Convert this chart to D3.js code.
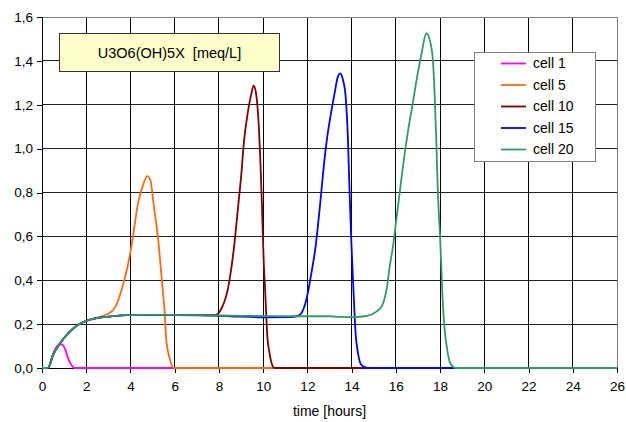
<!DOCTYPE html>
<html>
<head>
<meta charset="utf-8">
<script src="https://cdn.jsdelivr.net/npm/d3@7"></script>
<style>
  html, body { margin: 0; padding: 0; background: #fff; }
  svg { display: block; font-family: "Liberation Sans", Arial, sans-serif; }
</style>
</head>
<body>
<svg id="chart" width="626" height="422"></svg>
<script>
// Concentration of U3O6(OH)5X over time at selected cells, [time (h), meq/L]
const cell1 = [[0,0],[0.27,0],[0.5,0.065],[0.72,0.104],[0.88,0.108],[1.03,0.09],[1.18,0.044],[1.33,0.014],[1.48,0],[26,0]];
const cell5 = [[0,0],[0.27,0],[0.5,0.06],[0.8,0.11],[1.2,0.16],[1.6,0.195],[2.0,0.215],[2.6,0.232],[3.21,0.264],[3.45,0.31],[3.66,0.378],[3.96,0.507],[4.11,0.598],[4.34,0.75],[4.57,0.834],[4.76,0.875],[4.9,0.857],[5.06,0.735],[5.24,0.598],[5.42,0.40],[5.55,0.25],[5.62,0.128],[5.77,0.045],[5.95,0],[26,0]];
const cell10 = [[0,0],[0.27,0],[0.5,0.06],[0.8,0.11],[1.2,0.16],[1.6,0.195],[2.0,0.215],[2.6,0.23],[3.2,0.236],[3.8,0.241],[5,0.242],[7,0.242],[7.85,0.242],[8.11,0.27],[8.41,0.363],[8.56,0.454],[8.71,0.576],[8.86,0.728],[9.01,0.88],[9.13,1.03],[9.31,1.168],[9.47,1.252],[9.57,1.287],[9.69,1.244],[9.8,1.108],[9.87,0.956],[9.95,0.728],[10.02,0.5],[10.1,0.333],[10.14,0.24],[10.19,0.143],[10.29,0.067],[10.44,0.006],[10.5,0],[26,0]];
const cell15 = [[0,0],[0.27,0],[0.5,0.06],[0.8,0.11],[1.2,0.16],[1.6,0.195],[2.0,0.215],[2.6,0.23],[3.2,0.236],[3.8,0.241],[5,0.242],[7,0.24],[8.5,0.236],[10,0.231],[11.3,0.232],[11.65,0.242],[11.95,0.31],[12.18,0.432],[12.37,0.553],[12.55,0.72],[12.74,0.918],[12.88,1.04],[13.04,1.145],[13.23,1.252],[13.38,1.328],[13.49,1.343],[13.61,1.313],[13.73,1.237],[13.83,1.054],[13.91,0.796],[13.99,0.568],[14.09,0.34],[14.18,0.158],[14.29,0.067],[14.44,0.014],[14.7,0],[26,0]];
const cell20 = [[0,0],[0.27,0],[0.5,0.06],[0.8,0.11],[1.2,0.16],[1.6,0.195],[2.0,0.215],[2.6,0.23],[3.2,0.236],[3.8,0.241],[5,0.242],[7,0.241],[9,0.238],[11,0.236],[13,0.236],[13.5,0.233],[14.1,0.232],[14.67,0.237],[15.12,0.257],[15.39,0.287],[15.6,0.37],[15.72,0.461],[15.87,0.553],[16.02,0.675],[16.17,0.796],[16.32,0.918],[16.55,1.08],[16.77,1.21],[16.95,1.32],[17.15,1.427],[17.38,1.526],[17.57,1.48],[17.68,1.396],[17.75,1.259],[17.83,1.031],[17.9,0.804],[18.01,0.576],[18.1,0.348],[18.2,0.18],[18.28,0.113],[18.43,0.029],[18.58,0.006],[18.7,0],[26,0]];

const seriesNames = ["cell 1", "cell 5", "cell 10", "cell 15", "cell 20"];
const seriesData = [cell1, cell5, cell10, cell15, cell20];
const seriesColors = ["#ff00ff", "#ff6a13", "#800000", "#0000ff", "#339966"];

const xTicks = [0, 2, 4, 6, 8, 10, 12, 14, 16, 18, 20, 22, 24, 26];
const yTicks = [0, 0.2, 0.4, 0.6, 0.8, 1.0, 1.2, 1.4, 1.6];
const chartTitle = "U3O6(OH)5X  [meq/L]";
const xTitle = "time [hours]";

const svg = d3.select("#chart");
const plot = { left: 42, right: 617, top: 17, bottom: 368 };

const x = d3.scaleLinear().domain([0, 26]).range([plot.left, plot.right]);
const y = d3.scaleLinear().domain([0, 1.6]).range([plot.bottom, plot.top]);
const fmt = v => d3.format(".1f")(v).replace(".", ",");

// grid
const grid = svg.append("g").attr("shape-rendering", "crispEdges");
grid.selectAll("line.v").data(xTicks.filter(t => t > 0 && t < 26)).join("line")
  .attr("x1", d => x(d)).attr("x2", d => x(d))
  .attr("y1", plot.top).attr("y2", plot.bottom)
  .attr("stroke", "#000");
grid.selectAll("line.h").data(yTicks.filter(t => t > 0 && t < 1.6)).join("line")
  .attr("x1", plot.left).attr("x2", plot.right)
  .attr("y1", d => y(d)).attr("y2", d => y(d))
  .attr("stroke", "#222");
// top and right frame
grid.append("line").attr("x1", plot.left).attr("x2", plot.right)
  .attr("y1", plot.top).attr("y2", plot.top).attr("stroke", "#808080");
grid.append("line").attr("x1", plot.right).attr("x2", plot.right)
  .attr("y1", plot.top).attr("y2", plot.bottom).attr("stroke", "#808080");

// axes
const xAxis = d3.axisBottom(x).tickValues(xTicks).tickSize(5).tickPadding(8).tickFormat(d3.format("d"));
const yAxis = d3.axisLeft(y).tickValues(yTicks).tickSize(5).tickPadding(4).tickFormat(fmt);

const gx = svg.append("g").attr("transform", `translate(0,${plot.bottom})`).call(xAxis);
const gy = svg.append("g").attr("transform", `translate(${plot.left},0)`).call(yAxis);
[gx, gy].forEach(g => {
  g.select(".domain").attr("stroke", "#000").attr("shape-rendering", "crispEdges");
  g.selectAll(".tick line").attr("stroke", "#000").attr("shape-rendering", "crispEdges");
  g.selectAll(".tick text").attr("fill", "#000").attr("font-size", 13.5)
    .attr("font-family", "Liberation Sans, Arial, sans-serif");
});
gx.select(".domain").attr("d", `M${plot.left},0H${plot.right}`);
gy.select(".domain").attr("d", `M0,${plot.top}V${plot.bottom}`);

svg.append("text").attr("x", x(13)).attr("y", 416).attr("text-anchor", "middle")
  .attr("font-size", 14).attr("fill", "#000").text(xTitle);

// series
const line = d3.line().x(d => x(d[0])).y(d => y(d[1])).curve(d3.curveMonotoneX);
svg.append("g").selectAll("path").data(seriesData).join("path")
  .attr("d", line)
  .attr("fill", "none")
  .attr("stroke", (d, i) => seriesColors[i])
  .attr("stroke-width", 1.8)
  .attr("stroke-linejoin", "round");

// title box
const tb = svg.append("g");
tb.append("rect").attr("x", 59.5).attr("y", 33.5).attr("width", 220).attr("height", 38)
  .attr("fill", "#ffffcc").attr("stroke", "#333").attr("shape-rendering", "crispEdges");
tb.append("text").attr("x", 169.5).attr("y", 57.5).attr("text-anchor", "middle")
  .attr("font-size", 14.5).attr("fill", "#000").style("white-space", "pre").text(chartTitle);

// legend
const lg = svg.append("g");
lg.append("rect").attr("x", 474.5).attr("y", 52.5).attr("width", 121).attr("height", 109)
  .attr("fill", "#fff").attr("stroke", "#808080").attr("shape-rendering", "crispEdges");
const rows = lg.selectAll("g.row").data(seriesNames).join("g")
  .attr("transform", (d, i) => `translate(0,${63.5 + i * 21.5})`);
rows.append("line").attr("x1", 501).attr("x2", 526).attr("y1", 0).attr("y2", 0)
  .attr("stroke", (d, i) => seriesColors[i]).attr("stroke-width", 1.8);
rows.append("text").attr("x", 533).attr("y", 0).attr("dy", "0.35em")
  .attr("font-size", 14).attr("fill", "#000").text(d => d);
</script>
</body>
</html>
